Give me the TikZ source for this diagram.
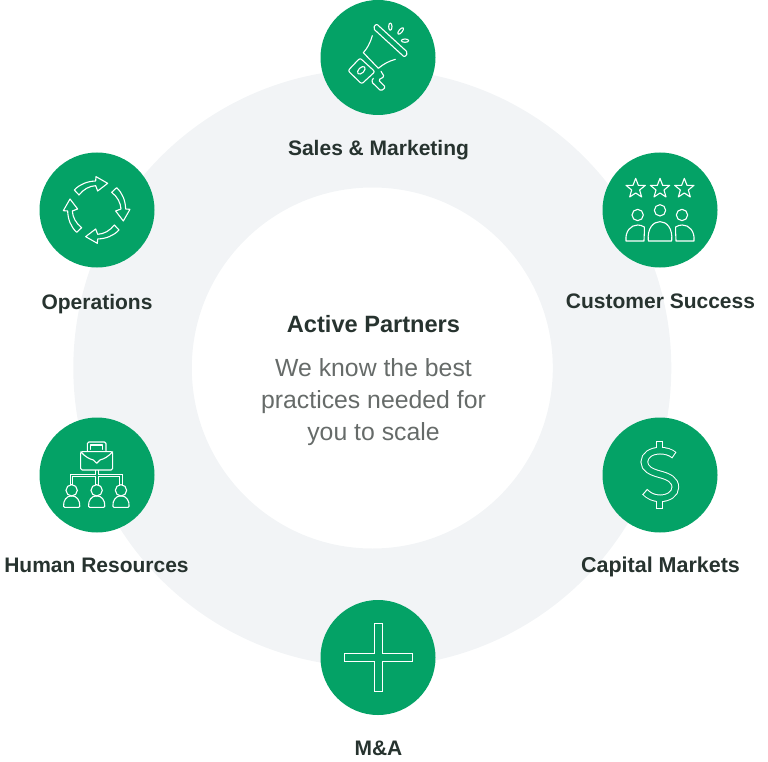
\documentclass[tikz,border=0pt]{standalone}
\usepackage{fontspec}
\setmainfont{Liberation Sans}
\definecolor{brandgreen}{HTML}{04A266}
\definecolor{ringgray}{HTML}{F2F4F6}
\definecolor{darktext}{HTML}{27332F}
\definecolor{graytext}{HTML}{666B69}
\tikzset{
  disc/.style={circle,fill=brandgreen,draw=none,minimum size=115pt,inner sep=0pt},
  lbl/.style={font=\fontsize{21}{25}\selectfont\bfseries,text=darktext,inner sep=0pt,anchor=base},
  ico/.style={draw=white,line width=1.1pt,line join=round,line cap=round},
  zoomed/.style={x=0.3333pt,y=-0.3333pt},
}
\newcommand{\mystar}[2]{%
  \draw[ico] (#1+0,#2-31) -- (#1+8,#2-10) -- (#1+29,#2-10) -- (#1+12,#2+4) -- (#1+18,#2+25)
   -- (#1+0,#2+13) -- (#1-18,#2+25) -- (#1-12,#2+4) -- (#1-29,#2-10) -- (#1-8,#2-10) -- cycle;}
\newcommand{\myarrow}[1]{%
  \draw[ico,rotate=#1] (-67,-60) .. controls (-50,-78) and (-28,-86) .. (-3,-87) -- (-2,-100) -- (33,-80) -- (3,-57)
   -- (-3,-73) .. controls (-22,-72) and (-40,-62) .. (-53,-45) -- cycle;}
\newcommand{\myperson}[2]{%
  \draw[ico] (#1,#2) circle (17);
  \draw[ico,rounded corners=1pt] (#1-24,#2+51) .. controls (#1-26,#2+30) and (#1-14,#2+17) .. (#1,#2+17)
    .. controls (#1+14,#2+17) and (#1+26,#2+30) .. (#1+24,#2+51) -- cycle;}
\begin{document}
\begin{tikzpicture}[x=1pt,y=-1pt]
\useasboundingbox (0,0) rectangle (768,762);
% ring
\fill[ringgray,even odd rule] (372.3,368) circle (299) (372.3,368) circle (180.5);
% discs
\node[disc] (sales) at (378,57.5) {};
\node[disc] (customer) at (660,210) {};
\node[disc] (ops) at (97,210) {};
\node[disc] (hr) at (97,475) {};
\node[disc] (capital) at (660,475) {};
\node[disc] (ma) at (378,657.5) {};
% labels
\node[lbl] (lsales) at (378.5,155.5) {Sales \& Marketing};
\node[lbl] (lcustomer) at (660.5,308.5) {Customer Success};
\node[lbl] (lops) at (97,309.5) {Operations};
\node[lbl] (lhr) at (96.5,572.5) {Human Resources};
\node[lbl,font=\fontsize{21.5}{25}\selectfont\bfseries] (lcapital) at (660.5,572.5) {Capital Markets};
\node[lbl] (lma) at (378.5,755.5) {M\&A};
% centre
\node[lbl,font=\fontsize{23.6}{28}\selectfont\bfseries] (title) at (373.5,332) {Active Partners};
\node[inner sep=0pt,font=\fontsize{24.8}{32}\selectfont,text=graytext,align=center] (body) at (373.5,402.5) {We know the best\\practices needed for\\you to scale};
% megaphone
\begin{scope}[shift={(310,0)},zoomed]
\draw[ico,rounded corners=2pt] (189,85) -- (199,71) -- (294,158) -- (284,172) -- cycle;
\draw[ico] (187,107) .. controls (180,130) and (172,145) .. (160,158) -- (205,205) .. controls (220,192) and (238,183) .. (256,178);
\draw[ico,rounded corners=2pt] (150,174) -- (195,215) -- (155,252) -- (114,212) -- cycle;
\draw[ico,rotate around={45:(154,211)}] (154,211) ellipse (14 and 8);
\draw[ico,rounded corners=1.5pt] (213,214) -- (223,230) -- (205,240) -- (227,262) -- (213,273) -- (184,245) -- (190,235);
\draw[ico] (241,80) ellipse (5 and 11);
\draw[ico,rotate around={50:(272,93)}] (272,93) ellipse (12 and 5);
\draw[ico] (285,122) ellipse (11 and 5);
\end{scope}
% customer success
\begin{scope}[shift={(595,145)},zoomed]
\mystar{122}{131}\mystar{195}{131}\mystar{268}{131}
\draw[ico] (128,210) circle (17) (195,196) circle (17) (261,210) circle (17);
\draw[ico] (93,288) .. controls (90,258) and (108,240) .. (128,240) .. controls (135,240) and (142,242) .. (148,246) .. controls (149,260) and (147,275) .. (147,288) -- cycle;
\draw[ico] (160,288) .. controls (156,250) and (175,230) .. (195,230) .. controls (215,230) and (234,250) .. (230,288) -- cycle;
\draw[ico] (297,288) .. controls (300,258) and (282,240) .. (262,240) .. controls (255,240) and (248,242) .. (242,246) .. controls (241,260) and (243,275) .. (243,288) -- cycle;
\end{scope}
% operations
\begin{scope}[shift={(30,145)},zoomed]
\begin{scope}[shift={(200,195)}]
\myarrow{0}\myarrow{90}\myarrow{180}\myarrow{270}
\end{scope}
\end{scope}
% human resources
\begin{scope}[shift={(30,410)},zoomed]
\draw[white,line width=3.4pt] (201,180) -- (201,197) (125,224) -- (125,197) -- (273,197) -- (273,224) (201,197) -- (201,224);
\draw[brandgreen,line width=1.4pt] (201,177) -- (201,197) (125,227) -- (125,197) -- (273,197) -- (273,227) (201,197) -- (201,227);
\draw[ico,rounded corners=1.5pt] (172,122) -- (172,96) -- (228,96) -- (228,122);
\draw[ico] (182,118) -- (182,105) -- (218,105) -- (218,118);
\draw[ico,rounded corners=1.5pt] (152,125) -- (248,125) -- (248,180) -- (152,180) -- cycle;
\draw[ico] (152,125) .. controls (165,140) and (178,147) .. (190,150) -- (200,160) -- (210,150) .. controls (222,147) and (235,140) .. (248,125);
\myperson{125}{241}\myperson{200}{241}\myperson{273}{241}
\end{scope}
% dollar
\begin{scope}[shift={(595,410)},zoomed]
\draw[white,line width=7.6pt] (193,92) -- (193,125) (193,262) -- (193,297);
\draw[white,line width=7.6pt] (238,136) .. controls (226,126) and (212,122) .. (195,122) .. controls (168,122) and (148,136) .. (148,156) .. controls (148,176) and (168,186) .. (195,193) .. controls (222,200) and (241,210) .. (241,232) .. controls (241,252) and (220,265) .. (195,265) .. controls (176,265) and (162,258) .. (149,245);
\draw[brandgreen,line width=5.6pt] (193,95) -- (193,130) (193,258) -- (193,294);
\draw[brandgreen,line width=5.6pt] (235.5,134) .. controls (226,126) and (212,122) .. (195,122) .. controls (168,122) and (148,136) .. (148,156) .. controls (148,176) and (168,186) .. (195,193) .. controls (222,200) and (241,210) .. (241,232) .. controls (241,252) and (220,265) .. (195,265) .. controls (176,265) and (162,258) .. (151.5,247.5);
\end{scope}
% plus
\begin{scope}[shift={(315,595)},zoomed]
\draw[ico,line cap=butt,line join=miter] (178,85) -- (202,85) -- (202,175) -- (292,175) -- (292,200) -- (202,200) -- (202,290) -- (178,290) -- (178,200) -- (88,200) -- (88,175) -- (178,175) -- cycle;
\end{scope}
\end{tikzpicture}
\end{document}
